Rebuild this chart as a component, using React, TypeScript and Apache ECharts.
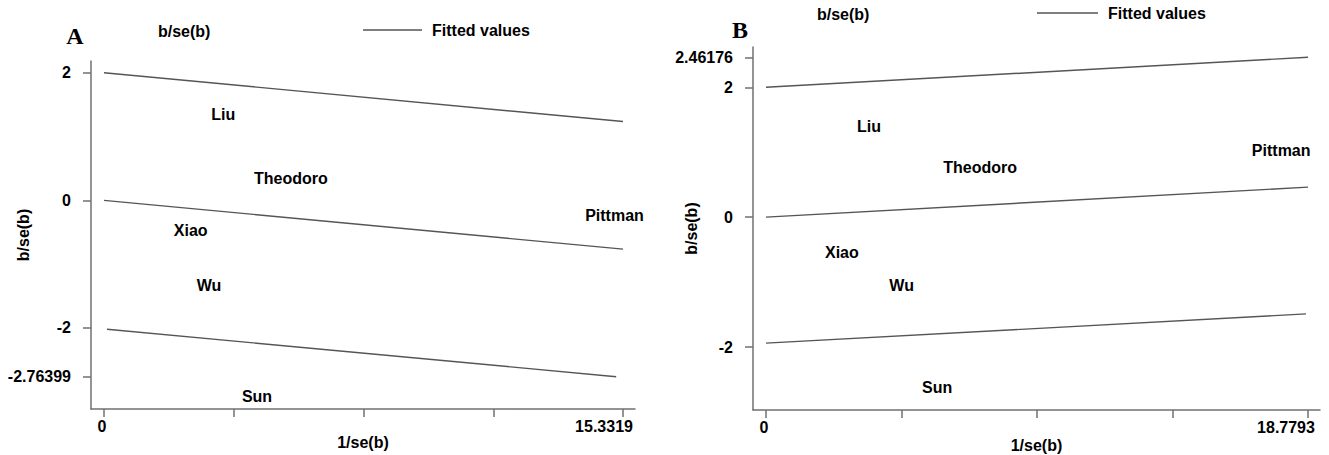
import React, { useEffect, useRef } from "react";
import * as echarts from "echarts";

// Study labels (plotted as text markers)
const studies = ["Liu", "Theodoro", "Pittman", "Xiao", "Wu", "Sun"];

// Panel A: precision (1/se) and standardized effect (b/se)
const precisionA = [3.52, 5.52, 15.08, 2.56, 3.1, 4.52];
const zA = [1.34, 0.35, -0.23, -0.47, -1.33, -3.07];
// Panel B
const precisionB = [3.57, 7.42, 17.85, 2.63, 4.7, 5.93];
const zB = [1.39, 0.77, 1.03, -0.54, -1.06, -2.62];

// Fitted lines [x, y] endpoints
const fitA_upper = [[0, 2], [15.3319, 1.236]];
const fitA_mid = [[0, 0], [15.3319, -0.764]];
const fitA_lower = [[0.09, -2.02], [15.13, -2.76399]];
const fitB_upper = [[0, 2], [18.7793, 2.46176]];
const fitB_mid = [[0, 0], [18.7793, 0.46176]];
const fitB_lower = [[0, -1.94], [18.71, -1.49]];

// Tick values
const yTicksA = [2, 0, -2, -2.76399];
const xTicksA = [0, 3.833, 7.666, 11.499, 15.3319];
const xLabelsA = [0, 15.3319];
const yTicksB = [2.46176, 2, 0, -2];
const xTicksB = [0, 4.6948, 9.3897, 14.0845, 18.7793];
const xLabelsB = [0, 18.7793];

const FONT = '"Liberation Sans", Arial, Helvetica, sans-serif';
const TXT = "#000";
const AXIS = "#707070";
const LINE = "#555";

function xAxisDef(gridIndex: number, min: number, max: number, ticks: number[], labels: number[], shift: number, nameGap: number) {
  return {
    type: "value",
    gridIndex,
    min,
    max,
    name: "1/se(b)",
    nameLocation: "middle",
    nameGap,
    nameMoveOverlap: false,
    nameTextStyle: { fontFamily: FONT, fontSize: 16, fontWeight: "bold", color: TXT },
    axisLine: { show: true, onZero: false, lineStyle: { color: AXIS, width: 1.5 } },
    axisTick: { show: true, length: 8, inside: false, customValues: ticks, lineStyle: { color: AXIS, width: 1.5 } },
    axisLabel: {
      show: true,
      margin: 9,
      customValues: labels,
      formatter: (v: number) => (v === labels[labels.length - 1] ? "{e|" + String(v) + "}" : "{z|" + String(v) + "}"),
      rich: {
        z: { fontFamily: FONT, fontSize: 16, fontWeight: "bold", color: TXT, padding: [0, 4, 0, 0] },
        e: { fontFamily: FONT, fontSize: 16, fontWeight: "bold", color: TXT, padding: [0, shift, 0, 0] },
      },
    },
    splitLine: { show: false },
  };
}

function yAxisDef(gridIndex: number, min: number, max: number, ticks: number[], nameGap: number) {
  return {
    type: "value",
    gridIndex,
    min,
    max,
    name: "b/se(b)",
    nameLocation: "middle",
    nameGap,
    nameMoveOverlap: false,
    nameTextStyle: { fontFamily: FONT, fontSize: 16, fontWeight: "bold", color: TXT },
    axisLine: { show: true, onZero: false, lineStyle: { color: AXIS, width: 1.5 } },
    axisTick: { show: true, length: 8, inside: false, customValues: ticks, lineStyle: { color: AXIS, width: 1.5 } },
    axisLabel: {
      show: true,
      margin: 20,
      customValues: ticks,
      formatter: (v: number) => String(v),
      fontFamily: FONT,
      fontSize: 16,
      fontWeight: "bold",
      color: TXT,
    },
    splitLine: { show: false },
  };
}

function fitSeries(data: number[][], idx: number) {
  return {
    type: "line",
    name: "Fitted values",
    xAxisIndex: idx,
    yAxisIndex: idx,
    data,
    symbol: "none",
    silent: true,
    lineStyle: { color: LINE, width: 1.4 },
  };
}

function pointSeries(xs: number[], ys: number[], idx: number) {
  return {
    type: "scatter",
    name: "b/se(b)",
    xAxisIndex: idx,
    yAxisIndex: idx,
    symbol: "circle",
    symbolSize: 1,
    itemStyle: { color: "#fff", opacity: 1 },
    z: 5,
    data: studies.map((s, i) => ({ name: s, value: [xs[i], ys[i]] })),
    label: {
      show: true,
      position: "inside",
      formatter: "{b}",
      fontFamily: FONT,
      fontSize: 16,
      fontWeight: "bold",
      color: TXT,
      textBorderWidth: 0,
      opacity: 1,
    },
  };
}

export default function App() {
  const ref = useRef<HTMLDivElement>(null);
  useEffect(() => {
    if (!ref.current) return;
    const chart = echarts.init(ref.current, null, { renderer: "svg" });
    const legendText = (x: number, y: number, text: string) => ({
      type: "text",
      x,
      y,
      style: { text, fill: TXT, font: `bold 16px ${FONT}`, textAlign: "left", textVerticalAlign: "middle" },
    });
    const legendLine = (x1: number, x2: number, y: number) => ({
      type: "line",
      shape: { x1, y1: y, x2, y2: y },
      style: { stroke: LINE, lineWidth: 1.4 },
    });
    chart.setOption({
      animation: false,
      backgroundColor: "#fff",
      grid: [
        { left: 91, top: 61, width: 544, height: 348, containLabel: false, outerBoundsMode: "none" },
        { left: 753, top: 47, width: 567, height: 363, containLabel: false, outerBoundsMode: "none" },
      ],
      xAxis: [
        xAxisDef(0, -0.384, 15.686, xTicksA, xLabelsA, 38, 25),
        xAxisDef(1, -0.45, 19.195, xTicksB, xLabelsB, 44, 27),
      ],
      yAxis: [
        yAxisDef(0, -3.27, 2.185, yTicksA, 60),
        yAxisDef(1, -2.97, 2.62, yTicksB, 54),
      ],
      series: [
        pointSeries(precisionA, zA, 0),
        fitSeries(fitA_upper, 0),
        fitSeries(fitA_mid, 0),
        fitSeries(fitA_lower, 0),
        pointSeries(precisionB, zB, 1),
        fitSeries(fitB_upper, 1),
        fitSeries(fitB_mid, 1),
        fitSeries(fitB_lower, 1),
      ],
      graphic: [
        {
          type: "text",
          x: 75,
          y: 36,
          style: { text: "A", fill: TXT, font: `bold 24px "Liberation Serif", "Times New Roman", serif`, textAlign: "center", textVerticalAlign: "middle" },
        },
        {
          type: "text",
          x: 740,
          y: 30,
          style: { text: "B", fill: TXT, font: `bold 24px "Liberation Serif", "Times New Roman", serif`, textAlign: "center", textVerticalAlign: "middle" },
        },
        legendText(158, 31, "b/se(b)"),
        legendLine(363, 422, 30),
        legendText(432, 30, "Fitted values"),
        legendText(817, 14, "b/se(b)"),
        legendLine(1037, 1098, 13),
        legendText(1108, 13, "Fitted values"),
      ],
    });
    return () => chart.dispose();
  }, []);
  return <div ref={ref} style={{ position: "absolute", left: 0, top: 0, width: 1329, height: 455 }} />;
}
